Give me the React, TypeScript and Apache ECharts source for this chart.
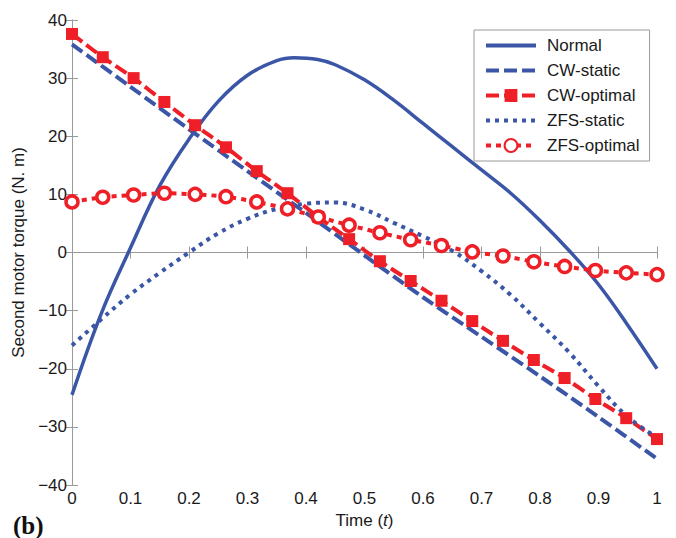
import React, { useEffect, useRef } from "react";
import * as echarts from "echarts";

const BLUE = "#3b56a6";
const RED = "#ee1f26";

// Normal (solid)
const tNormal = [0, 0.05, 0.1, 0.15, 0.2, 0.25, 0.3, 0.35, 0.38, 0.42, 0.45, 0.5, 0.55, 0.6, 0.65, 0.7, 0.75, 0.8, 0.85, 0.9, 0.95, 1];
const vNormal = [-24.5, -10.5, 0.8, 11.5, 19.5, 26, 30.5, 33, 33.5, 33.2, 32.3, 29.7, 26.2, 22.2, 18.2, 14.2, 10.2, 5.5, 0.3, -5.5, -12.5, -20];

// CW-static (dashed)
const tCWs = [0, 0.1, 0.2, 0.3, 0.4, 0.5, 0.6, 0.7, 0.8, 0.9, 1];
const vCWs = [35.8, 28.5, 21.2, 14, 6.8, -0.5, -7.7, -14.5, -21.3, -28.3, -35.5];

// Optimal marker times
const tOpt = [0, 0.0526, 0.1053, 0.1579, 0.2105, 0.2632, 0.3158, 0.3684, 0.4211, 0.4737, 0.5263, 0.5789, 0.6316, 0.6842, 0.7368, 0.7895, 0.8421, 0.8947, 0.9474, 1];
// CW-optimal (dashed + squares)
const vCWo = [37.6, 33.6, 30.0, 25.9, 21.9, 18.1, 14.0, 10.2, 6.1, 2.3, -1.5, -4.9, -8.3, -11.8, -15.2, -18.5, -21.6, -25.2, -28.5, -32.1];

// ZFS-static (dotted)
const tZs = [0, 0.05, 0.1, 0.15, 0.2, 0.25, 0.3, 0.35, 0.4, 0.45, 0.5, 0.55, 0.6, 0.65, 0.7, 0.75, 0.8, 0.85, 0.9, 0.95, 1];
const vZs = [-16, -11.5, -7.2, -3.5, 0, 3.3, 5.8, 7.5, 8.4, 8.6, 7.4, 5.1, 2.8, 0.3, -3.2, -7.3, -12.2, -17.2, -23, -28.3, -31.8];

// ZFS-optimal (dotted + circles)
const vZo = [8.7, 9.5, 9.9, 10.2, 10.0, 9.6, 8.7, 7.5, 6.1, 4.7, 3.4, 2.2, 1.2, 0.1, -0.6, -1.6, -2.4, -3.1, -3.5, -3.8];

const names = ["Normal", "CW-static", "CW-optimal", "ZFS-static", "ZFS-optimal"];

const zip = (t: number[], v: number[]) => t.map((x, i) => [x, v[i]]);

export default function App() {
  const ref = useRef<HTMLDivElement>(null);
  useEffect(() => {
    document.body.style.margin = "0";
    const chart = echarts.init(ref.current!, null, { renderer: "svg" });
    const font = "Liberation Sans, Arial, sans-serif";
    const axisGrey = "#9a9a9a";
    const txt = "#1a1a1a";
    const common = {
      min: 0,
      max: 1,
      interval: 0.1,
      axisLine: { show: true, lineStyle: { color: axisGrey, width: 1 } },
      axisTick: { show: true, inside: true, length: 6, lineStyle: { color: axisGrey } },
      splitLine: { show: false },
    };
    const commonY = {
      min: -40,
      max: 40,
      interval: 10,
      axisLine: { show: true, lineStyle: { color: axisGrey, width: 1 } },
      axisTick: { show: true, inside: true, length: 6, lineStyle: { color: axisGrey } },
      splitLine: { show: false },
    };
    const hidden = { color: "rgba(0,0,0,0)", borderWidth: 0 };
    chart.setOption({
      animation: false,
      grid: { left: 72, right: 19, top: 20, bottom: 53 },
      xAxis: [
        {
          type: "value",
          position: "bottom",
          ...common,
          axisLabel: {
            fontSize: 17,
            fontFamily: font,
            color: txt,
            margin: 5,
            formatter: (v: number) => String(+v.toFixed(2)),
          },
          name: "Time ({i|t})",
          nameLocation: "middle",
          nameGap: 26,
          nameTextStyle: {
            fontSize: 17,
            fontFamily: font,
            color: txt,
            rich: { i: { fontStyle: "italic", fontSize: 17, fontFamily: font, color: txt } },
          },
        },
        {
          type: "value",
          position: "top",
          ...common,
          axisLabel: { show: false },
        },
      ],
      yAxis: [
        {
          type: "value",
          position: "left",
          ...commonY,
          axisLabel: {
            fontSize: 17,
            fontFamily: font,
            color: txt,
            margin: 5,
            formatter: (v: number) => String(v).replace("-", "\u2212"),
          },
          name: "Second motor torque (N. m)",
          nameLocation: "middle",
          nameGap: 41,
          nameTextStyle: { fontSize: 17, fontFamily: font, color: txt },
        },
        {
          type: "value",
          position: "right",
          ...commonY,
          axisLabel: { show: false },
        },
      ],
      legend: {
        orient: "vertical",
        left: 474,
        top: 30,
        data: names,
        backgroundColor: "#fff",
        borderColor: "#9a9a9a",
        borderWidth: 1,
        borderRadius: 0,
        padding: [7, 10, 7, 10],
        itemWidth: 50,
        itemHeight: 16,
        itemGap: 8,
        selectedMode: false,
        lineStyle: { width: 4 },
        textStyle: { fontSize: 17, fontFamily: font, color: txt, padding: [0, 0, 0, 6] },
      },
      series: [
        {
          name: names[0],
          type: "line",
          data: zip(tNormal, vNormal),
          smooth: 0.4,
          symbol: "circle",
          showSymbol: false,
          lineStyle: { color: BLUE, width: 3.5, type: "solid" },
          itemStyle: hidden,
        },
        {
          name: names[1],
          type: "line",
          data: zip(tCWs, vCWs),
          smooth: 0.3,
          symbol: "circle",
          showSymbol: false,
          lineStyle: { color: BLUE, width: 4, type: [13, 5] },
          itemStyle: hidden,
        },
        {
          name: names[2],
          type: "line",
          data: zip(tOpt, vCWo),
          smooth: 0.3,
          symbol: "rect",
          symbolSize: 12,
          showAllSymbol: true,
          lineStyle: { color: RED, width: 4, type: [13, 5] },
          itemStyle: { color: RED },
        },
        {
          name: names[3],
          type: "line",
          data: zip(tZs, vZs),
          smooth: 0.4,
          symbol: "circle",
          showSymbol: false,
          lineStyle: { color: BLUE, width: 4, type: [4, 5] },
          itemStyle: hidden,
        },
        {
          name: names[4],
          type: "line",
          data: zip(tOpt, vZo),
          smooth: 0.3,
          symbol: "circle",
          symbolSize: 12,
          showAllSymbol: true,
          lineStyle: { color: RED, width: 4, type: [5, 5] },
          itemStyle: { color: "#fff", borderColor: RED, borderWidth: 3.5 },
        },
      ],
      graphic: [
        {
          type: "text",
          left: 13,
          top: 513,
          style: {
            text: "(b)",
            font: "bold 25px 'Liberation Serif', 'Times New Roman', serif",
            fill: "#111",
          },
        },
      ],
    });
    return () => chart.dispose();
  }, []);
  return <div ref={ref} style={{ width: 676, height: 538 }} />;
}
